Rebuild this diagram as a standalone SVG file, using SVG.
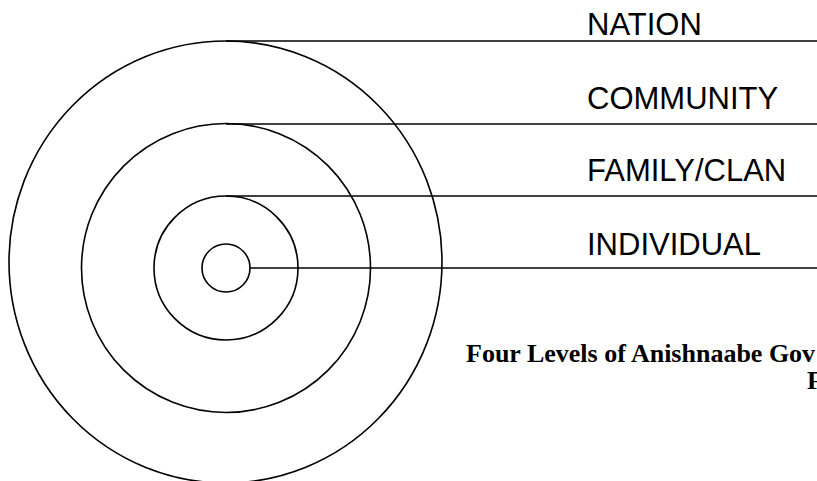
<svg xmlns="http://www.w3.org/2000/svg" width="817" height="481" viewBox="0 0 817 481">
<style>
.ring{fill:none;stroke:#000;stroke-width:1.6}
.conn{stroke:#000;stroke-width:1.6;fill:none}
.lbl{font-family:"Liberation Sans",Arial,sans-serif;font-size:31px;fill:#000}
.cap{font-family:"Liberation Serif","Times New Roman",serif;font-size:26px;font-weight:bold;fill:#000}
</style>
<rect width="817" height="481" fill="#fff"/>
<g id="nation"><ellipse class="ring" cx="225.5" cy="262" rx="216.5" ry="221"/><text class="lbl" x="587" y="35">NATION</text></g>
<g id="community"><circle class="ring" cx="226" cy="268" r="144.5"/><text class="lbl" x="587" y="109">COMMUNITY</text></g>
<g id="family"><circle class="ring" cx="226" cy="268" r="72"/><text class="lbl" x="587" y="181">FAMILY/CLAN</text></g>
<g id="individual"><circle class="ring" cx="226" cy="268" r="24"/><text class="lbl" x="587" y="255">INDIVIDUAL</text></g>
<g id="connectors">
<line class="conn" x1="226" y1="41" x2="817" y2="41"/>
<line class="conn" x1="226" y1="124" x2="817" y2="124"/>
<line class="conn" x1="226" y1="196" x2="817" y2="196"/>
<line class="conn" x1="250" y1="268" x2="817" y2="268"/>
</g>
<g id="caption">
<text class="cap" x="466" y="362">Four Levels of Anishnaabe Gov</text>
<text class="cap" x="807" y="389">F</text>
</g>
</svg>
